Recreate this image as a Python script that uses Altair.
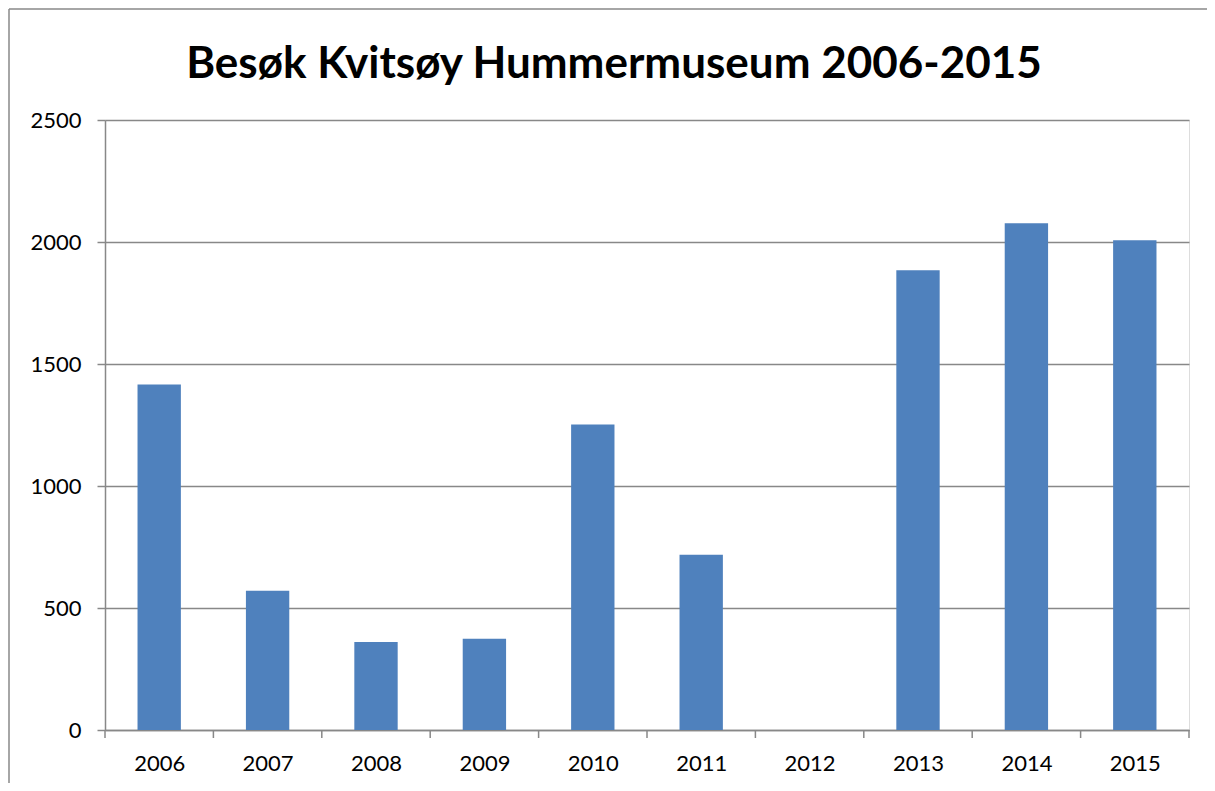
import altair as alt
import pandas as pd

# ---- data ----
years = [2006, 2007, 2008, 2009, 2010, 2011, 2012, 2013, 2014, 2015]
visitors = [1416, 571, 361, 374, 1252, 718, 0, 1884, 2077, 2007]
y_ticks = [0, 500, 1000, 1500, 2000, 2500]
# category boundaries (tick marks between the years)
x_tick_positions = [2005.5, 2006.5, 2007.5, 2008.5, 2009.5, 2010.5,
                    2011.5, 2012.5, 2013.5, 2014.5, 2015.5]
title_text = "Besøk Kvitsøy Hummermuseum 2006-2015"

bars_df = pd.DataFrame({"year": years, "visitors": visitors})
ticks_df = pd.DataFrame({"pos": x_tick_positions})
frame_df = pd.DataFrame({"a": [0]})

W, H = 1084, 610
GRAY = "#888888"
FONT = "Lato"

x_scale = alt.Scale(domain=[2005.5, 2015.5], nice=False, zero=False)
y_scale = alt.Scale(domain=[0, 2500], nice=False)

bars = alt.Chart(bars_df).transform_calculate(
    x0="datum.year - 0.2", x1="datum.year + 0.2"
).mark_bar(color="#4F81BD").encode(
    x=alt.X("x0:Q", scale=x_scale, title=None,
            axis=alt.Axis(values=years, format="d", grid=False,
                          domainColor=GRAY, domainWidth=1.5,
                          tickOpacity=0, tickSize=8,
                          labelFont=FONT, labelFontSize=22, labelColor="black",
                          labelPadding=15, labelFlush=False)),
    x2="x1:Q",
    y=alt.Y("visitors:Q", scale=y_scale, title=None,
            axis=alt.Axis(values=y_ticks, format="d", grid=True,
                          gridColor=GRAY, gridWidth=1.5,
                          domainColor=GRAY, domainWidth=1.5,
                          tickColor=GRAY, tickWidth=1.5, tickSize=8,
                          labelFont=FONT, labelFontSize=22, labelColor="black",
                          labelPadding=16)),
    y2=alt.datum(0),
)

xticks = alt.Chart(ticks_df).mark_rule(color=GRAY, strokeWidth=1.5).encode(
    x=alt.X("pos:Q", scale=x_scale),
    y=alt.value(H),
    y2=alt.value(H + 8),
)

# chart-area border (only its top and left edges fall inside the window)
frame_top = alt.Chart(frame_df).mark_rule(color="#898989", strokeWidth=1.5).encode(
    x=alt.value(-96), x2=alt.value(W + 30), y=alt.value(-111),
)
frame_left = alt.Chart(frame_df).mark_rule(color="#898989", strokeWidth=1.5).encode(
    x=alt.value(-96), y=alt.value(-111), y2=alt.value(H + 70),
)

chart = alt.layer(bars, xticks, frame_top, frame_left).properties(
    width=W, height=H,
    autosize="none",
    padding={"left": 97, "top": 112, "right": 18, "bottom": 53},
    title=alt.TitleParams(title_text, font=FONT, fontSize=44, fontWeight="bold",
                          color="black", anchor="middle", dx=-33, dy=114,
                          offset=0, baseline="alphabetic"),
).configure_view(stroke=None).configure(background="white")

chart.save("out.html", embed_options={"renderer": "svg", "actions": False})
